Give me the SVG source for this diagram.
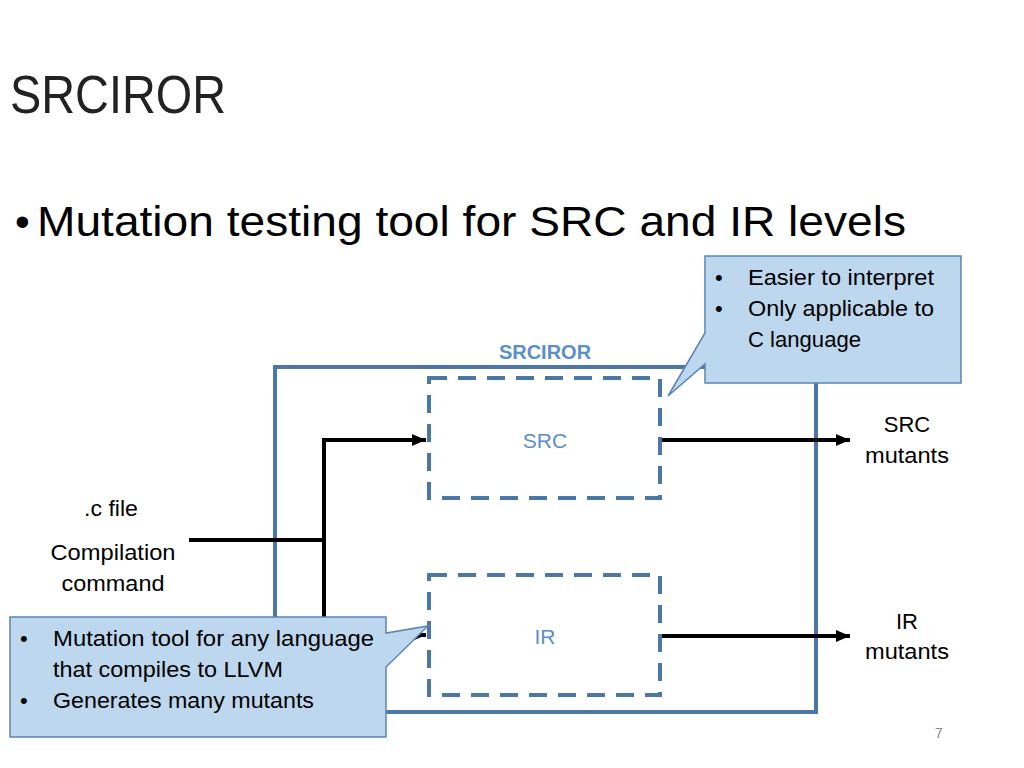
<svg xmlns="http://www.w3.org/2000/svg" width="1024" height="768" viewBox="0 0 1024 768">
<style>
text{font-family:"Liberation Sans",Arial,sans-serif;fill:#000}
.t{font-size:22px}
.c{text-anchor:middle}
.blue{fill:#5b8fc7}
.box{fill:none;stroke:#4a77a5;stroke-width:4}
.dash{fill:none;stroke:#4a77a5;stroke-width:4;stroke-dasharray:18 11}
.ln{fill:none;stroke:#000;stroke-width:4}
.call{fill:#bdd7ee;stroke:#5b84b4;stroke-width:1.5}
</style>
<defs>
<marker id="ah" markerWidth="4" markerHeight="4" refX="3.5" refY="2" orient="auto" markerUnits="strokeWidth">
<path d="M0,0.5 L3.5,2 L0,3.5 Z" fill="#000"/>
</marker>
</defs>
<rect width="1024" height="768" fill="#fff"/>
<text x="10" y="113" font-size="54" textLength="216" lengthAdjust="spacingAndGlyphs" style="fill:#222">SRCIROR</text>
<text x="15" y="236" font-size="42">•</text>
<text x="37" y="236" font-size="42" textLength="869" lengthAdjust="spacingAndGlyphs">Mutation testing tool for SRC and IR levels</text>

<g id="srciror">
<rect class="box" x="275" y="367" width="541" height="345"/>
<text class="c blue" x="545" y="359" font-size="20" font-weight="bold">SRCIROR</text>
</g>
<g id="src">
<rect class="dash" x="429" y="378" width="231" height="120"/>
<text class="c blue" x="545" y="448" font-size="21">SRC</text>
</g>
<g id="ir">
<rect class="dash" x="429" y="575" width="231" height="120"/>
<text class="c blue" x="545" y="644" font-size="21">IR</text>
</g>
<g id="input">
<text class="t c" x="111" y="516" textLength="54" lengthAdjust="spacingAndGlyphs">.c file</text>
<text class="t c" x="113" y="560" textLength="125" lengthAdjust="spacingAndGlyphs">Compilation</text>
<text class="t c" x="113" y="591" textLength="103" lengthAdjust="spacingAndGlyphs">command</text>
</g>
<g id="src-out">
<text class="t c" x="907" y="432">SRC</text>
<text class="t c" x="907" y="463" textLength="84" lengthAdjust="spacingAndGlyphs">mutants</text>
</g>
<g id="ir-out">
<text class="t c" x="907" y="629">IR</text>
<text class="t c" x="907" y="659" textLength="84" lengthAdjust="spacingAndGlyphs">mutants</text>
</g>

<g id="connectors">
<path class="ln" d="M189,540 H326"/>
<path class="ln" d="M324,635 V440 H426" marker-end="url(#ah)"/>
<path class="ln" d="M324,635 H426" marker-end="url(#ah)"/>
<path class="ln" d="M662,440 H850" marker-end="url(#ah)"/>
<path class="ln" d="M662,636 H850" marker-end="url(#ah)"/>
</g>

<g id="callout-src">
<path class="call" d="M705,256 H961 V383 H705 V364 L668,396 L705,333 Z"/>
<text class="t" x="715" y="285">•</text>
<text class="t" x="748" y="285" textLength="186" lengthAdjust="spacingAndGlyphs">Easier to interpret</text>
<text class="t" x="715" y="316">•</text>
<text class="t" x="748" y="316" textLength="186" lengthAdjust="spacingAndGlyphs">Only applicable to</text>
<text class="t" x="748" y="347" textLength="113" lengthAdjust="spacingAndGlyphs">C language</text>
</g>
<g id="callout-ir">
<path class="call" d="M10,617 H386 V633 L428,626 L386,667 V737 H10 Z"/>
<text class="t" x="20" y="646">•</text>
<text class="t" x="53" y="646" textLength="321" lengthAdjust="spacingAndGlyphs">Mutation tool for any language</text>
<text class="t" x="53" y="677" textLength="230" lengthAdjust="spacingAndGlyphs">that compiles to LLVM</text>
<text class="t" x="20" y="708">•</text>
<text class="t" x="53" y="708" textLength="261" lengthAdjust="spacingAndGlyphs">Generates many mutants</text>
</g>
<text x="939" y="738" font-size="14" class="c" style="fill:#888">7</text>
</svg>
